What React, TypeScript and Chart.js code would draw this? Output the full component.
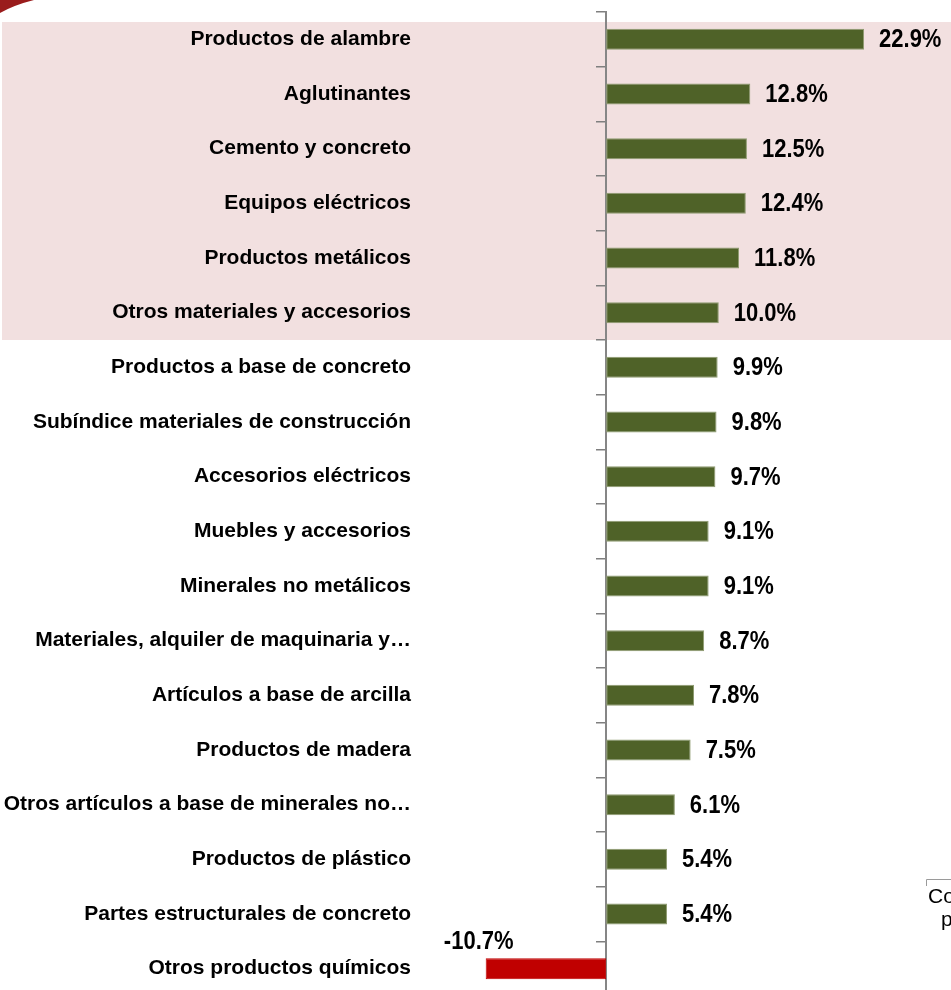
import React, { useEffect, useRef } from "react";
import { Chart, registerables } from "chart.js";

Chart.register(...registerables);

const categories: string[] = [
  "Productos de alambre",
  "Aglutinantes",
  "Cemento y concreto",
  "Equipos eléctricos",
  "Productos metálicos",
  "Otros materiales y accesorios",
  "Productos a base de concreto",
  "Subíndice materiales de construcción",
  "Accesorios eléctricos",
  "Muebles y accesorios",
  "Minerales no metálicos",
  "Materiales, alquiler de maquinaria y…",
  "Artículos a base de arcilla",
  "Productos de madera",
  "Otros artículos a base de minerales no…",
  "Productos de plástico",
  "Partes estructurales de concreto",
  "Otros productos químicos",
];

const values: number[] = [
  22.9, 12.8, 12.5, 12.4, 11.8, 10.0, 9.9, 9.8, 9.7, 9.1, 9.1, 8.7, 7.8, 7.5, 6.1, 5.4, 5.4, -10.7,
];

const highlightedCount = 6;

const GREEN = "#4F6228";
const RED = "#C00000";
const FONT = "'Liberation Sans', Arial, sans-serif";

const decorPlugin = {
  id: "decor",
  beforeDraw(chart: any) {
    const { ctx, scales } = chart;
    const y = scales.y;
    const step = y.getPixelForValue(1) - y.getPixelForValue(0);
    const top = y.getPixelForValue(0) - step * 0.317;
    const bottom = y.getPixelForValue(highlightedCount - 1) + step * 0.5;
    ctx.save();
    ctx.fillStyle = "#F2E0E0";
    ctx.fillRect(2, top, chart.width, bottom - top);
    // logo fragment
    ctx.fillStyle = "#9A1C1C";
    ctx.beginPath();
    ctx.moveTo(0, 0);
    ctx.lineTo(34, 0);
    ctx.quadraticCurveTo(14, 5, 0, 13);
    ctx.closePath();
    ctx.fill();
    ctx.restore();
  },
  afterDraw(chart: any) {
    const { ctx } = chart;
    const meta = chart.getDatasetMeta(0);
    ctx.save();
    ctx.fillStyle = "#000";
    ctx.font = `bold 25px ${FONT}`;
    ctx.textBaseline = "middle";
    meta.data.forEach((bar: any, i: number) => {
      const v = values[i];
      const txt = `${v.toFixed(1)}%`;
      ctx.save();
      if (v >= 0) {
        ctx.translate(bar.x + 15, bar.y + 1);
        ctx.scale(0.88, 1);
        ctx.textAlign = "left";
      } else {
        ctx.translate(bar.x - 7, bar.y - 27);
        ctx.scale(0.88, 1);
        ctx.textAlign = "center";
      }
      ctx.fillText(txt, 0, 0);
      ctx.restore();
    });
    // cropped text box at bottom-right
    ctx.strokeStyle = "#9a9a9a";
    ctx.lineWidth = 1;
    ctx.beginPath();
    ctx.moveTo(926.5, 886);
    ctx.lineTo(926.5, 879.5);
    ctx.lineTo(951, 879.5);
    ctx.stroke();
    ctx.font = `21px ${FONT}`;
    ctx.textAlign = "left";
    ctx.fillText("Co", 928, 897);
    ctx.fillText("p", 941, 920);
    ctx.restore();
  },
};

function noPad(scale: any) {
  scale.paddingTop = 0;
  scale.paddingBottom = 0;
}

export default function App() {
  const ref = useRef<HTMLCanvasElement | null>(null);
  useEffect(() => {
    if (!ref.current) return;
    const chart = new Chart(ref.current, {
      type: "bar",
      data: {
        labels: categories,
        datasets: [
          {
            data: values,
            backgroundColor: values.map((v) => (v < 0 ? RED : GREEN)),
            borderColor: values.map((v) => (v < 0 ? RED : "#8E9B70")),
            borderWidth: 1,
            borderSkipped: false,
            barPercentage: 1,
            categoryPercentage: 0.385,
          },
        ],
      },
      options: {
        indexAxis: "y",
        responsive: false,
        animation: false,
        layout: { padding: { top: 12, bottom: 4, right: 7, left: 0 } },
        plugins: { legend: { display: false }, tooltip: { enabled: false } },
        scales: {
          x: {
            display: false,
            min: -16,
            max: 30,
          },
          y: {
            position: "left",
            offset: true,
            grid: { display: false, drawTicks: false },
            border: { display: false },
            ticks: {
              color: "#000",
              padding: 15,
              autoSkip: false,
              font: { family: FONT, size: 21, weight: "bold" },
            },
            afterFit(scale: any) {
              scale.width = 426;
              noPad(scale);
            },
          },
          y2: {
            type: "category",
            position: { x: 0 },
            offset: true,
            grid: {
              offset: true,
              drawOnChartArea: false,
              drawTicks: true,
              tickLength: 9,
              color: "#7f7f7f",
              lineWidth: 1.5,
            },
            border: { display: true, color: "#868686", width: 2 },
            ticks: { display: false, autoSkip: false },
            afterFit(scale: any) {
              noPad(scale);
            },
          },
        },
      },
      plugins: [decorPlugin],
    });
    return () => chart.destroy();
  }, []);
  return (
    <div
      style={{
        position: "fixed",
        left: 0,
        top: 0,
        width: 951,
        height: 990,
        overflow: "hidden",
        background: "#fff",
      }}
    >
      <canvas ref={ref} width={951} height={1000} style={{ display: "block" }} />
    </div>
  );
}
